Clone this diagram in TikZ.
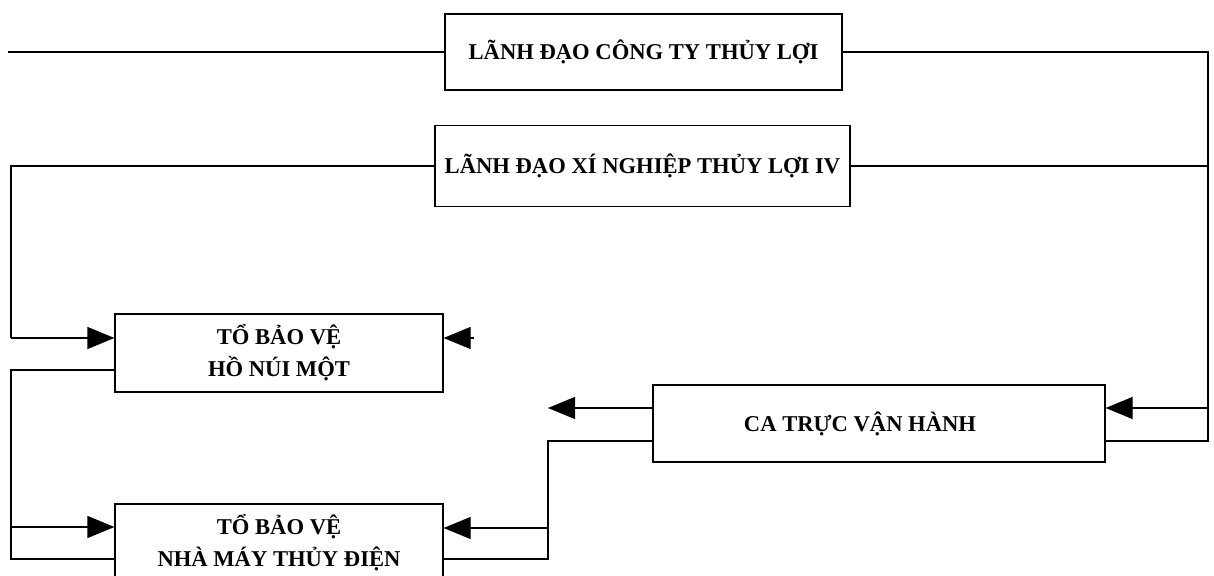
\documentclass[tikz,border=0pt]{standalone}
\usepackage{fontspec}
\setmainfont{Liberation Serif}
\usetikzlibrary{arrows.meta}
\begin{document}
\begin{tikzpicture}[x=0.5pt, y=-0.5pt, line width=0.6pt,
    box/.style={draw, inner sep=0pt, align=center,
      font=\fontsize{11.3}{16}\selectfont\bfseries},
    tip/.style={-{Triangle[length=13.5pt, width=11pt]}}]
    \useasboundingbox (0,0) rectangle (1214,576);
    \clip (0,0) rectangle (1214,576);
    % boxes
    \node[box, minimum width=198.5pt, minimum height=38pt] (congty) at (643.5,52) {LÃNH ĐẠO CÔNG TY THỦY LỢI};
    \node[box, minimum width=207.5pt, minimum height=40.5pt] (xinghiep) at (642.5,166) {LÃNH ĐẠO XÍ NGHIỆP THỦY LỢI IV};
    \node[box, minimum width=164pt, minimum height=39pt] (honuimot) at (279,353) {TỔ BẢO VỆ\\HỒ NÚI MỘT};
    \node[box, minimum width=226pt, minimum height=38.5pt] (catruc) at (879,423.5) {CA TRỰC VẬN HÀNH\hspace*{19pt}};
    \node[box, minimum width=164pt, minimum height=39pt] (nhamay) at (279,543) {TỔ BẢO VỆ\\NHÀ MÁY THỦY ĐIỆN};
    % corner points
    \coordinate (tl) at (8,52);
    \coordinate (r1) at (1208,52);
    \coordinate (r2) at (1208,408);
    \coordinate (r3) at (1208,441);
    \coordinate (l1) at (11,166);
    \coordinate (l2) at (11,338);
    \coordinate (l3) at (11,370);
    \coordinate (l4) at (11,527);
    \coordinate (l5) at (11,559);
    \coordinate (m1) at (548,408);
    \coordinate (m2) at (548,441);
    \coordinate (m3) at (548,528);
    \coordinate (m4) at (548,559);
    \coordinate (c1) at (474,338);
    % right side
    \draw (congty.west) -- (tl);
    \draw (congty.east) -- (r1) -- (r2);
    \draw[tip] (r2) -- (catruc.east |- r2);
    \draw (xinghiep.east) -- (xinghiep.east -| r1);
    \draw (catruc.east |- r3) -- (r3) -- (r2);
    % left side
    \draw (xinghiep.west) -- (l1) -- (l2);
    \draw[tip] (l2) -- (honuimot.west |- l2);
    \draw (honuimot.west |- l3) -- (l3) -- (l5) -- (nhamay.west |- l5);
    \draw[tip] (l4) -- (nhamay.west |- l4);
    % middle
    \draw[tip] (catruc.west |- m1) -- (m1);
    \draw (catruc.west |- m2) -- (m2) -- (m4) -- (nhamay.east |- m4);
    \draw[tip] (m3) -- (nhamay.east |- m3);
    \draw[tip] (c1) -- (honuimot.east |- c1);
\end{tikzpicture}
\end{document}
